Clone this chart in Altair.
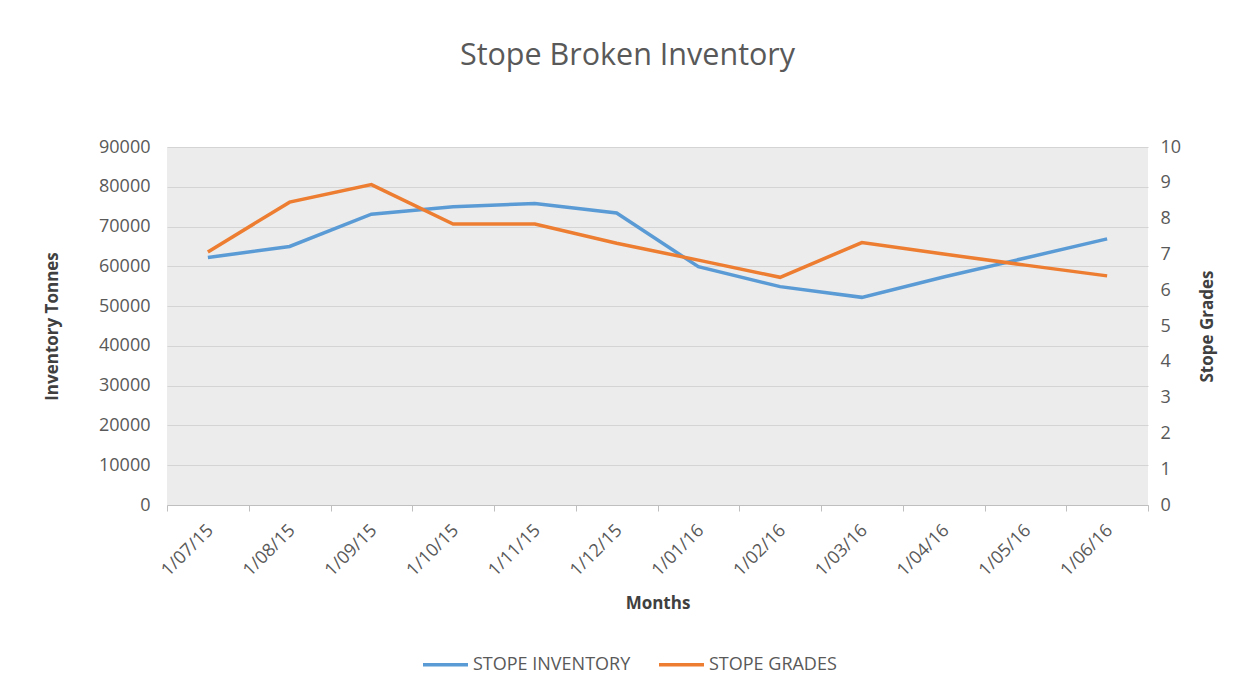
import altair as alt
import pandas as pd

months = ["1/07/15", "1/08/15", "1/09/15", "1/10/15", "1/11/15", "1/12/15",
          "1/01/16", "1/02/16", "1/03/16", "1/04/16", "1/05/16", "1/06/16"]
inventory = [62200, 65000, 73100, 75000, 75800, 73400, 59900, 54900, 52200, 57300, 62100, 66900]
grades = [7.07, 8.46, 8.95, 7.85, 7.85, 7.31, 6.84, 6.36, 7.33, 7.01, 6.70, 6.40]

series_names = ["STOPE INVENTORY", "STOPE GRADES"]
series_colors = ["#5B9BD5", "#ED7D31"]

df = pd.DataFrame({"Month": months, "Inventory": inventory, "Grade": grades})

FONT = "Open Sans"
LABEL = "#595959"

x_enc = alt.X(
    "Month:N",
    sort=months,
    scale=alt.Scale(paddingInner=0, paddingOuter=0),
    axis=alt.Axis(
        title="Months",
        labelAngle=315,
        labelFontSize=18,
        labelFont=FONT,
        labelColor=LABEL,
        labelPadding=10,
        labelOffset=-4,
        tickBand="extent",
        tickSize=6,
        tickColor="#bfbfbf",
        domainColor="#bfbfbf",
        grid=False,
        titleFont=FONT,
        titleFontSize=17,
        titleFontWeight="bold",
        titleColor="#404040",
        titleY=98,
        titleBaseline="middle",
    ),
)

color_scale = alt.Scale(domain=series_names, range=series_colors)

inv_line = alt.Chart(df).transform_calculate(
    series=f"'{series_names[0]}'"
).mark_line(strokeWidth=3.5).encode(
    x=x_enc,
    y=alt.Y(
        "Inventory:Q",
        scale=alt.Scale(domain=[0, 90000], nice=False),
        axis=alt.Axis(
            title="Inventory Tonnes",
            values=list(range(0, 90001, 10000)),
            format="d",
            ticks=False,
            domain=False,
            grid=True,
            gridColor="#d4d4d4",
            gridWidth=1,
            labelFontSize=18,
            labelFont=FONT,
            labelColor=LABEL,
            labelPadding=17,
            titleFont=FONT,
            titleFontSize=17,
            titleFontWeight="bold",
            titleColor="#404040",
            titleX=-115,
            titleBaseline="middle",
        ),
    ),
    color=alt.Color("series:N", scale=color_scale, legend=alt.Legend(title=None)),
)

grade_line = alt.Chart(df).transform_calculate(
    series=f"'{series_names[1]}'"
).mark_line(strokeWidth=3.5).encode(
    x=x_enc,
    y=alt.Y(
        "Grade:Q",
        scale=alt.Scale(domain=[0, 10], nice=False),
        axis=alt.Axis(
            orient="right",
            title="Stope Grades",
            values=list(range(0, 11)),
            ticks=False,
            domain=False,
            grid=False,
            labelFontSize=18,
            labelFont=FONT,
            labelColor=LABEL,
            labelPadding=12,
            titleFont=FONT,
            titleFontSize=17,
            titleFontWeight="bold",
            titleColor="#404040",
            titleAngle=270,
            titleX=59,
            titleBaseline="middle",
        ),
    ),
    color=alt.Color("series:N", scale=color_scale, legend=alt.Legend(title=None)),
)

chart = (
    alt.layer(inv_line, grade_line)
    .resolve_scale(y="independent")
    .properties(
        width=981,
        height=358,
        background="white",
        title=alt.TitleParams(
            "Stope Broken Inventory",
            font=FONT,
            fontSize=30.5,
            fontWeight="normal",
            color=LABEL,
            anchor="middle",
            baseline="alphabetic",
            offset=43,
            dx=-30,
        ),
        autosize=alt.AutoSizeParams(type="none"),
        padding={"left": 159, "top": 139, "right": 80, "bottom": 176},
    )
    .configure_view(fill="#ececec", strokeWidth=0)
    .configure_legend(
        orient="none",
        legendX=254,
        legendY=493,
        direction="horizontal",
        symbolType="stroke",
        symbolSize=2025,
        symbolStrokeWidth=3.5,
        labelFont=FONT,
        labelFontSize=18,
        labelColor=LABEL,
        labelOffset=3,
        columnPadding=21,
    )
)

chart.save("out.html", embed_options={"renderer": "svg", "actions": False})
